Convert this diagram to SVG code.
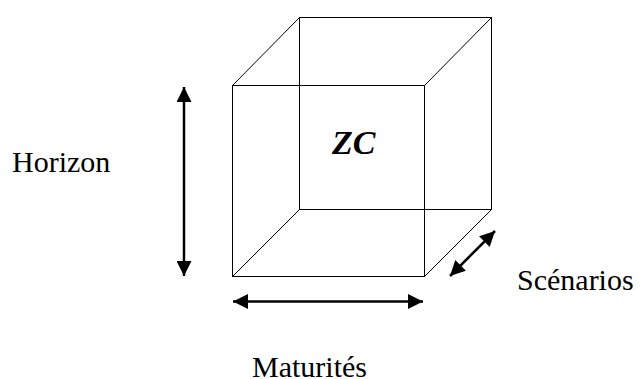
<svg xmlns="http://www.w3.org/2000/svg" width="641" height="379" viewBox="0 0 641 379">
<style>
.edge{stroke:#000;stroke-width:1;fill:none}
.arr{stroke:#000;stroke-width:2.5;fill:none}
.lbl{font-family:"Liberation Serif","Times New Roman",serif;font-size:30px;fill:#000}
.zc{font-family:"Liberation Serif","Times New Roman",serif;font-size:34px;font-weight:bold;font-style:italic;fill:#000}
</style>
<defs>
<marker id="ah" viewBox="0 0 10 10" refX="10" refY="5" markerWidth="6" markerHeight="6" orient="auto-start-reverse" markerUnits="strokeWidth">
<path d="M0,0 L10,5 L0,10 Z" fill="#000"/>
</marker>
</defs>
<rect width="641" height="379" fill="#fff"/>
<g id="cube">
<rect class="edge" x="299.5" y="17.5" width="192" height="192"/>
<rect class="edge" x="232.5" y="85.5" width="192" height="191"/>
<line class="edge" x1="232.5" y1="85.5" x2="299.5" y2="17.5"/>
<line class="edge" x1="424.5" y1="85.5" x2="491.5" y2="17.5"/>
<line class="edge" x1="232.5" y1="276.5" x2="299.5" y2="209.5"/>
<line class="edge" x1="424.5" y1="276.5" x2="491.5" y2="209.5"/>
<text class="zc" x="332" y="154">ZC</text>
</g>
<g id="connectors">
<line class="arr" x1="184" y1="87" x2="184" y2="276" marker-start="url(#ah)" marker-end="url(#ah)"/>
<line class="arr" x1="233" y1="301.5" x2="423" y2="301.5" marker-start="url(#ah)" marker-end="url(#ah)"/>
<line class="arr" x1="450" y1="276" x2="495" y2="231" marker-start="url(#ah)" marker-end="url(#ah)"/>
</g>
<g id="horizon"><text class="lbl" x="12" y="172">Horizon</text></g>
<g id="maturites"><text class="lbl" x="252" y="377">Maturités</text></g>
<g id="scenarios"><text class="lbl" x="517" y="290">Scénarios</text></g>
</svg>
